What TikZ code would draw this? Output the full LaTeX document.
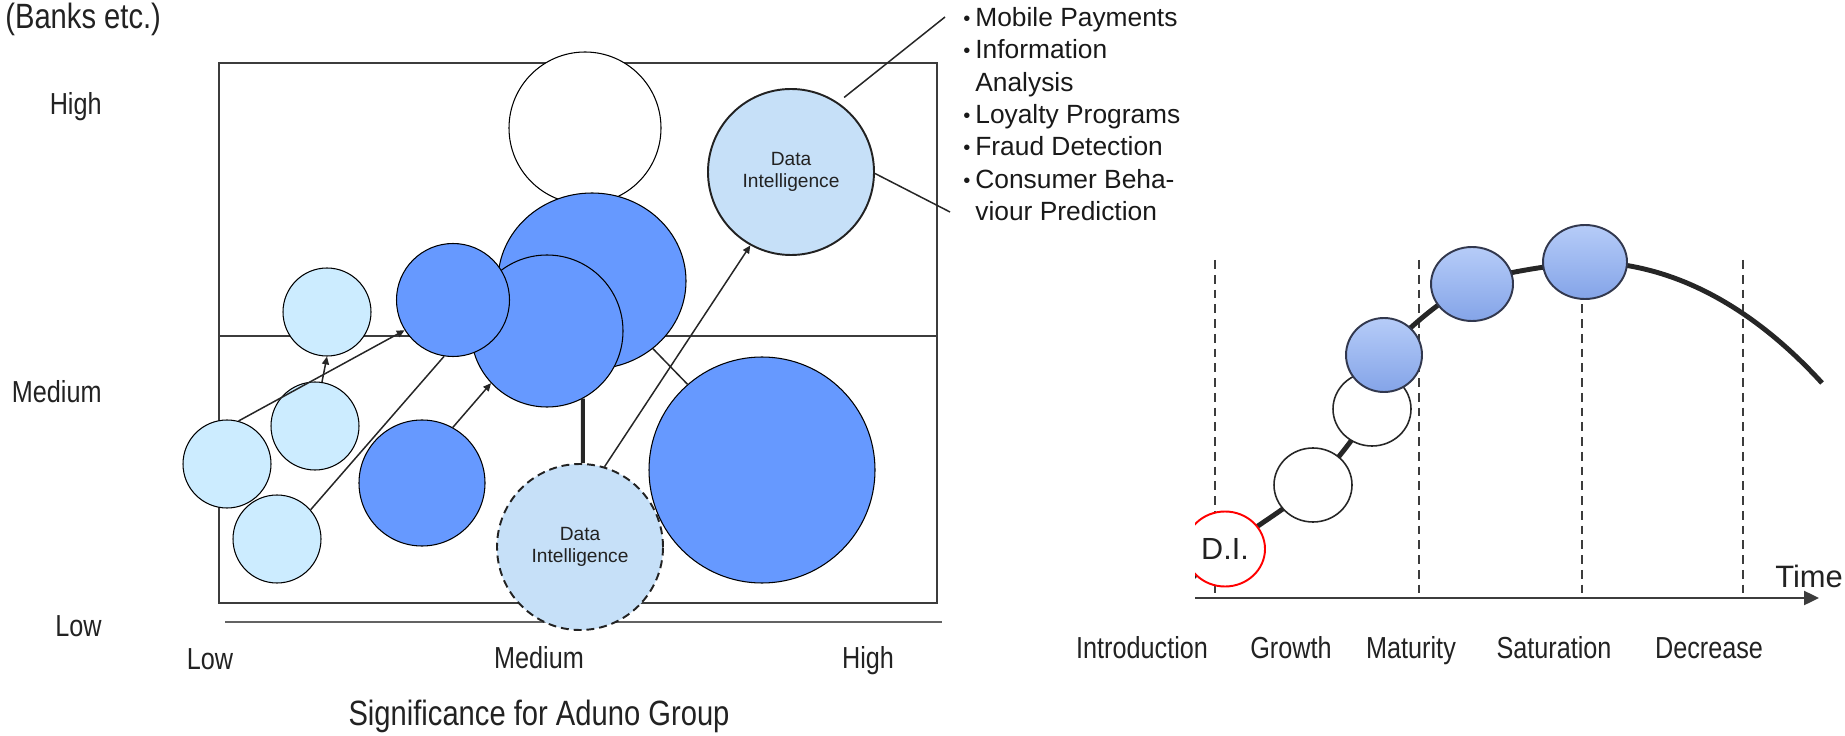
\documentclass[tikz,border=0pt]{standalone}
\usepackage{fontspec}
\setmainfont{Liberation Sans}
\newfontfamily\narrowsans[FakeStretch=0.83]{Liberation Sans}
\usetikzlibrary{arrows.meta,shapes.geometric,backgrounds}

\definecolor{corefill}{RGB}{102,153,255}
\definecolor{edgefill}{RGB}{204,236,255}
\definecolor{difill}{RGB}{198,224,248}
\definecolor{balltop}{RGB}{182,204,248}
\definecolor{ballmid}{RGB}{152,184,240}
\definecolor{ballbot}{RGB}{132,164,232}
\definecolor{ballrim}{RGB}{50,56,78}
\definecolor{inkgray}{RGB}{34,34,34}
\definecolor{rulegray}{RGB}{60,60,60}

\newcommand{\pxu}{0.02cm}
\newcommand{\bul}{\makebox[0.24cm][l]{\raisebox{0.6pt}{\fontsize{11.5}{11.5}\selectfont\textbullet}}}

\begin{document}
\begin{tikzpicture}[x=0.02cm, y=-0.02cm,
    bubble/.style={circle, draw=black, line width=0.6pt, inner sep=0pt, minimum size=#1*\pxu},
    edgebub/.style={bubble=88, fill=edgefill},
    corebub/.style={bubble=#1, fill=corefill},
    dibub/.style={bubble=166, draw=inkgray, line width=1.1pt, fill=difill, align=center,
        text=inkgray, font=\fontsize{10.9}{12.5}\selectfont},
    link/.style={draw=black!85, line width=0.85pt},
    linkarrow/.style={link, -{Triangle[length=4.5pt, width=4pt]}},
    axislabel/.style={inner sep=0pt, text=inkgray, font=\narrowsans\fontsize{17.3}{20}\selectfont},
    titlelabel/.style={inner sep=0pt, text=inkgray, font=\narrowsans\fontsize{20}{24}\selectfont},
    phaseline/.style={draw=rulegray, line width=1.1pt, dash pattern=on 5pt off 3.4pt},
    stagering/.style={ellipse, draw=red, line width=1.1pt, fill=white, inner sep=0pt,
        minimum width=80*\pxu, minimum height=75*\pxu, text=inkgray, font=\fontsize{17.4}{20}\selectfont},
    stageblank/.style={ellipse, draw=black!85, line width=0.9pt, fill=white, inner sep=0pt,
        minimum width=78*\pxu, minimum height=74*\pxu},
    stageball/.style={ellipse, draw=ballrim, line width=1.1pt, top color=balltop, middle color=ballmid,
        bottom color=ballbot, inner sep=0pt, minimum width=#1*\pxu, minimum height=74*\pxu},
    lifecurve/.style={draw=black!85, line width=2.8pt}
  ]
  \useasboundingbox (0,0) rectangle (1845,736);

  % Portfolio frame
  \draw[rulegray, line width=1.1pt] (219,63) rectangle (937,603);
  \draw[rulegray, line width=1.1pt] (219,336) -- (937,336);
  \draw[rulegray!80, line width=0.9pt] (225,622) -- (942,622);

  % Bubbles
  \node[bubble=152, fill=white] (plain) at (585,128) {};
  \node[corebub=188, ellipse, minimum height=176*\pxu] (core3) at (592,281) {};
  \node[corebub=152] (core4) at (547,331) {};
  \node[corebub=113] (core2) at (453,300) {};
  \node[corebub=126] (core1) at (422,483) {};
  \node[corebub=226] (core5) at (762,470) {};
  \node[edgebub] (edge1) at (327,312) {};
  \node[edgebub] (edge2) at (315,426) {};
  \node[edgebub] (edge3) at (227,464) {};
  \node[edgebub] (edge4) at (277,539) {};
  \node[dibub] (diup) at (791,172) {Data\\Intelligence};
  \node[dibub, dash pattern=on 4.5pt off 2.8pt] (dilow) at (580,547) {Data\\Intelligence};

  % Arrows
  \draw[linkarrow] (edge3.75) -- (core2.212);
  \draw[linkarrow] (edge2.81) -- (edge1.south);
  \draw[link] (edge4.41) -- (core2.261);
  \draw[linkarrow] (core1.61) -- (core4.223);
  \draw[link] (core3.-48) -- (core5.131);
  \draw[link, line width=2.3pt] (core4.-62) -- (dilow.88);
  \draw[linkarrow] (dilow.73) -- (diup.241);

  % Uses of data intelligence
  \node[anchor=north west, inner sep=0pt, align=left, text=black!90,
        font=\fontsize{15}{18.4}\selectfont] (uses) at (963,7)
        {\bul Mobile Payments\\ \bul Information\\ \hspace*{0.24cm}Analysis\\
         \bul Loyalty Programs\\ \bul Fraud Detection\\ \bul Consumer Beha-\\
         \hspace*{0.24cm}viour Prediction};
  \coordinate (usesA) at (945,17);
  \coordinate (usesB) at (950,212);
  \draw[link, shorten <=4.5pt] (diup.56) -- (usesA);
  \draw[link] (diup.-1) -- (usesB);

  % Labels
  \node[axislabel, anchor=base east] (ylhigh) at (102,115) {High};
  \node[axislabel, anchor=base east] (ylmed) at (102,402) {Medium};
  \node[axislabel, anchor=base east] (yllow) at (102,636) {Low};
  \node[axislabel, anchor=base] (xllow) at (210,669) {Low};
  \node[axislabel, anchor=base] (xlmed) at (539,668) {Medium};
  \node[axislabel, anchor=base] (xlhigh) at (868,668) {High};
  \node[titlelabel, anchor=base] (xtitle) at (539,725) {Significance for Aduno Group};
  \node[titlelabel, anchor=base west] (ytitle) at (5,29) {(Banks etc.)};

  % Life cycle
  \coordinate (tstart) at (1195,598);
  \coordinate (tend) at (1819,598);
  \draw[draw=rulegray, line width=1.1pt, -{Triangle[length=8.5pt, width=8pt]}] (tstart) -- (tend);

  \begin{scope}
    \clip (1195,400) rectangle (1300,640);
    \node[stagering] (di) at (1225,549) {D.I.};
  \end{scope}
  \node[stageblank] (grow1) at (1313,485) {};
  \node[stageblank] (grow2) at (1372,409) {};
  \node[stageball=76] (ball1) at (1384,355) {};
  \node[stageball=82] (ball2) at (1472,284) {};
  \node[stageball=84] (ball3) at (1585,262) {};
  \coordinate (cstart) at (1180,590);
  \coordinate (cend) at (1822,383);

  \begin{scope}[on background layer]
    \foreach \xx in {1215,1419,1582,1743}
      \draw[phaseline] (\xx,260) -- (\xx,598);
    \clip (1195,150) rectangle (1845,598);
    \draw[lifecurve] plot[smooth, tension=0.55] coordinates
      {(cstart) (di) (grow1) (grow2) (ball1) (ball2) (ball3)}
      .. controls (1680,262) and (1760,315) .. (cend);
  \end{scope}

  \node[axislabel, anchor=base] (stintro) at (1142,658) {Introduction};
  \node[axislabel, anchor=base] (stgrowth) at (1291,658) {Growth};
  \node[axislabel, anchor=base] (stmature) at (1411,658) {Maturity};
  \node[axislabel, anchor=base] (stsat) at (1554,658) {Saturation};
  \node[axislabel, anchor=base] (stdecr) at (1709,658) {Decrease};
  \node[anchor=base west, inner sep=0pt, text=inkgray, font=\fontsize{17.6}{20}\selectfont]
    (timelbl) at (1775,587) {Time};

\end{tikzpicture}
\end{document}
